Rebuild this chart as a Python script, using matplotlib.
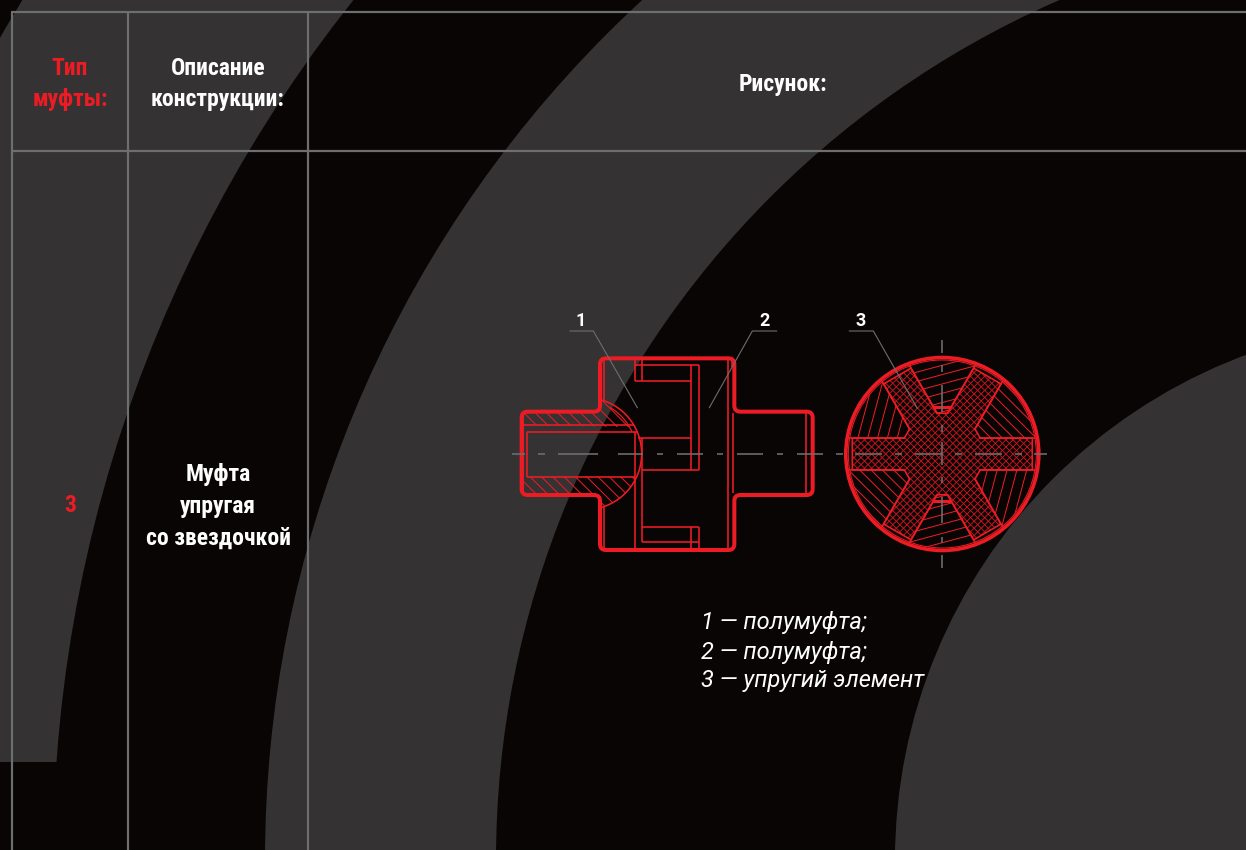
import numpy as np
import matplotlib
matplotlib.use("Agg")
import matplotlib.pyplot as plt
from matplotlib import font_manager as fm
from matplotlib.collections import LineCollection
from matplotlib.patches import Circle, Rectangle, Polygon, PathPatch
from matplotlib.path import Path

W, H = 1246, 850
BLACK, GRAY, RED, DARKRED, LINE, WHITE = "#090504", "#343233", "#ed1c24", "#d8161e", "#6d6e70", "#ffffff"

# background rings
ring_center = (1434, 860)
ring_radii = [1653, 1381, 1169, 938, 539]
band_cut_y = 762

# table grid
grid_x = [12, 128, 308]
grid_y = [12, 151]

# texts
header_texts = [("Тип\nмуфты:", 70, 84, RED), ("Описание\nконструкции:", 218, 84, WHITE), ("Рисунок:", 783, 84, WHITE)]
type_value = "3"
desc_lines = ["Муфта", "упругая", "со звездочкой"]
desc_y = [474, 506, 538]
legend_lines = ["1 — полумуфта;", "2 — полумуфта;", "3 — упругий элемент"]
legend_y = [622, 652, 681]
callouts = [("1", 581, 321), ("2", 764, 321), ("3", 861, 321)]

# longitudinal section, in 3x crop units (origin 500,300)
outline_z = [(65, 335), (300, 335), (300, 175), (703, 175), (703, 335), (938, 335), (938, 585),
             (703, 585), (703, 750), (300, 750), (300, 585), (65, 585)]
thin_z = [
    [(70, 375), (402, 375)], [(80, 395), (410, 395)], [(80, 530), (405, 530)],
    [(80, 395), (80, 530)], [(70, 340), (70, 580)],
    [(405, 180), (405, 242)], [(405, 395), (405, 745)], [(427, 180), (427, 242)], [(427, 413), (427, 725)],
    [(312, 180), (312, 300)], [(312, 622), (312, 745)], [(683, 180), (683, 745)], [(695, 180), (695, 200)],
    [(698, 340), (698, 580)], [(918, 340), (918, 580)],
    [(405, 195), (596, 195)], [(405, 242), (572, 242)], [(572, 195), (572, 510)], [(596, 195), (596, 510)],
    [(415, 413), (572, 413)], [(427, 510), (596, 510)],
    [(427, 680), (596, 680)], [(427, 725), (596, 725)], [(572, 680), (572, 745)], [(596, 680), (596, 745)],
]
ball_z = (257, 461, 168)
ball2_z = (250, 461, 160)
leader_z = [[(210, 93), (280, 93), (412, 323)], [(830, 93), (757, 93), (628, 323)]]
axis_segments_z = [(37, 75), (115, 135), (175, 295), (355, 430), (470, 490), (532, 610), (650, 670), (710, 790), (830, 850), (890, 970)]
axis_y_z = 462

# star section, px
star_c = (942.3, 454.0)
star_R = 96.5
star_inner_R = 94.0
arm_len, arm_hw, notch_s = 90.0, 15.8, 38.0
arm_angles = [0, 60, 120, 180, 240, 300]
# hatch direction (degrees, screen y up) and spacing per sector between arms (start at arm angle)
sector_hatch = [(-45, 8.0), (15, 9.0), (75, 9.5), (-45, 8.0), (15, 9.0), (75, 9.5)]
leader3_z = [(58, 93), (130, 93), (262, 325)]
star_hseg_z = [(18, 38), (75, 155), (195, 215), (255, 335), (375, 395), (435, 515), (555, 575), (612, 652)]
star_vseg_z = [(120, 158), (195, 215), (255, 335), (375, 395), (425, 495), (530, 550), (590, 670), (710, 730), (765, 803)]


def z1(p):
    return (500 + p[0] / 3, 300 + p[1] / 3)


def z2(p):
    return (830 + p[0] / 3, 300 + p[1] / 3)


def font(names):
    have = {f.name for f in fm.fontManager.ttflist}
    for n in names:
        if n in have:
            return n
    return "DejaVu Sans"


NARROW = font(["Liberation Sans Narrow", "Roboto Condensed", "Roboto"])
ITAL = font(["Roboto", "Open Sans"])
px = 0.72  # one pixel in points at dpi 100

fig = plt.figure(figsize=(W / 100, H / 100), dpi=100, facecolor=BLACK)
ax = fig.add_axes([0, 0, 1, 1])
ax.set_xlim(0, W)
ax.set_ylim(H, 0)
ax.axis("off")

cut = Rectangle((0, 0), W, band_cut_y, transform=ax.transData)
for i, r in enumerate(ring_radii):
    c = Circle(ring_center, r, fc=GRAY if i % 2 == 0 else BLACK, ec="none", zorder=1 + i * 0.1)
    ax.add_patch(c)
    if i == 0:
        c.set_clip_path(cut)

for x in grid_x:
    ax.plot([x, x], [grid_y[0], H], color=LINE, lw=2.2 * px, zorder=3, solid_capstyle="butt")
for y in grid_y:
    ax.plot([grid_x[0] - 1, W], [y, y], color=LINE, lw=2.2 * px, zorder=3, solid_capstyle="butt")


def rounded(points, r):
    verts, codes = [], []
    n = len(points)
    for i in range(n):
        p0, p1, p2 = np.array(points[i - 1]), np.array(points[i]), np.array(points[(i + 1) % n])
        a = p1 + (p0 - p1) / np.linalg.norm(p0 - p1) * r
        b = p1 + (p2 - p1) / np.linalg.norm(p2 - p1) * r
        verts += [a, p1, b]
        codes += [Path.MOVETO if i == 0 else Path.LINETO, Path.CURVE3, Path.CURVE3]
    verts.append(verts[0])
    codes.append(Path.CLOSEPOLY)
    return Path(verts, codes)


def hatch(clip, angle, spacing, color, lw, z=5):
    """Parallel lines at a screen angle (y up), clipped to a polygon."""
    clip = np.asarray(clip)
    c = clip.mean(axis=0)
    t = np.radians(angle)
    d = np.array([np.cos(t), -np.sin(t)])
    n = np.array([-d[1], d[0]])
    ext = np.abs((clip - c)).max() * 2 + 10
    k = np.arange(-int(ext / spacing), int(ext / spacing) + 1)
    segs = [[c + n * i * spacing - d * ext, c + n * i * spacing + d * ext] for i in k]
    lc = LineCollection(segs, colors=color, linewidths=lw, zorder=z)
    ax.add_collection(lc)
    lc.set_clip_path(Polygon(clip, transform=ax.transData))


def arc(cx, cy, r, a0, a1, n=60):
    a = np.radians(np.linspace(a0, a1, n))
    return np.column_stack([cx + r * np.cos(a), cy + r * np.sin(a)])


# --- longitudinal section
ax.add_patch(PathPatch(rounded([z1(p) for p in outline_z], 6), fc="none", ec=RED, lw=4 * px, zorder=7))
for s in thin_z:
    p = np.array([z1(q) for q in s])
    ax.plot(p[:, 0], p[:, 1], color=RED, lw=1.6 * px, zorder=6, solid_capstyle="butt")
bx, by = z1(ball_z[:2])
b = arc(bx, by, ball_z[2] / 3, -73, 73)
ax.plot(b[:, 0], b[:, 1], color=RED, lw=1.6 * px, zorder=6)
b2x, b2y = z1(ball2_z[:2])
b2 = arc(b2x, b2y, ball2_z[2] / 3, -60, -25)
ax.plot(b2[:, 0], b2[:, 1], color=RED, lw=1.2 * px, zorder=6)

arc_top = arc(bx, by, ball_z[2] / 3, -73, -28, 30)
arc_bot = arc(bx, by, ball_z[2] / 3, 24, 73, 30)
clip_top = [z1((70, 340)), z1((300, 340))] + list(arc_top) + [z1((70, 375))]
clip_bot = [z1((70, 530))] + list(arc_bot) + [z1((300, 585)), z1((70, 580))]
clip_top = np.array([tuple(p) for p in clip_top])
clip_bot = np.array([tuple(p) for p in clip_bot])
hatch(clip_top, -45, 8, RED, 1.0 * px)
hatch(clip_bot, -45, 8, RED, 1.0 * px)

for s in leader_z:
    p = np.array([z1(q) for q in s])
    ax.plot(p[:, 0], p[:, 1], color=LINE, lw=1.1 * px, zorder=8)
for a_, b_ in axis_segments_z:
    pa, pb = z1((a_, axis_y_z)), z1((b_, axis_y_z))
    ax.plot([pa[0], pb[0]], [pa[1], pb[1]], color=LINE, lw=1.6 * px, zorder=8, solid_capstyle="butt")

# --- star section
cx, cy = star_c


def scr(angle, along, off):
    t = np.radians(angle)
    u = np.array([np.cos(t), -np.sin(t)])
    n = np.array([-u[1], u[0]])
    return np.array([cx, cy]) + u * along + n * off


star = []
for ang in arm_angles:
    star += [scr(ang, notch_s, arm_hw), scr(ang, arm_len, arm_hw), scr(ang, arm_len, -arm_hw), scr(ang, notch_s, -arm_hw)]
star = np.array(star)

for i, ang in enumerate(arm_angles):
    a0 = scr(ang, notch_s, -arm_hw)
    a1 = scr(ang + 60, notch_s, arm_hw)
    along = np.sqrt(star_inner_R ** 2 - arm_hw ** 2)
    e0 = scr(ang, along, -arm_hw)
    e1 = scr(ang + 60, along, arm_hw)
    t0 = np.degrees(np.arctan2(-(e0[1] - cy), e0[0] - cx))
    t1 = np.degrees(np.arctan2(-(e1[1] - cy), e1[0] - cx))
    if t1 < t0:
        t1 += 360
    tt = np.radians(np.linspace(t0, t1, 30))
    rim = np.column_stack([cx + star_inner_R * np.cos(tt), cy - star_inner_R * np.sin(tt)])
    sector = np.vstack([a0, rim, a1])
    hatch(sector, sector_hatch[i][0], sector_hatch[i][1], RED, 1.0 * px)
    for e, a in ((e0, a0), (e1, a1)):
        ax.plot([a[0], e[0]], [a[1], e[1]], color=RED, lw=1.6 * px, zorder=6)

hatch(star, 45, 5.0, DARKRED, 0.85 * px)
hatch(star, -45, 5.0, DARKRED, 0.85 * px)
ax.add_patch(Polygon(star, closed=True, fc="none", ec=RED, lw=1.6 * px, zorder=6))
ax.add_patch(Circle(star_c, star_R, fc="none", ec=RED, lw=3.6 * px, zorder=7))
ax.add_patch(Circle(star_c, star_inner_R, fc="none", ec=RED, lw=1.0 * px, zorder=6))
for sgn in (-1, 1):
    ax.plot([cx - 9, cx + 9], [cy + sgn * 47.3, cy + sgn * 47.3], color=RED, lw=3 * px, zorder=6, solid_capstyle="butt")

for a_, b_ in star_hseg_z:
    pa, pb = z2((a_, 462)), z2((b_, 462))
    ax.plot([pa[0], pb[0]], [pa[1], pb[1]], color=LINE, lw=1.6 * px, zorder=8, solid_capstyle="butt")
for a_, b_ in star_vseg_z:
    pa, pb = z2((337, a_)), z2((337, b_))
    ax.plot([pa[0], pb[0]], [pa[1], pb[1]], color=LINE, lw=1.6 * px, zorder=8, solid_capstyle="butt")
p = np.array([z2(q) for q in leader3_z])
ax.plot(p[:, 0], p[:, 1], color=LINE, lw=1.1 * px, zorder=8)

# --- text
bold = dict(family=NARROW, fontweight="semibold", ha="center", va="center", zorder=9)
for txt, x, y, col in header_texts:
    ax.text(x, y, txt, color=col, fontsize=17, linespacing=1.43, **bold)
ax.text(70, 505, type_value, color=RED, fontsize=17, **bold)
for t, y in zip(desc_lines, desc_y):
    ax.text(218, y, t, color=WHITE, fontsize=17, **bold)
for t, x, y in callouts:
    ax.text(x, y, t, color=WHITE, fontsize=13, family=ITAL, fontweight="bold", ha="center", va="center", zorder=9)
for t, y in zip(legend_lines, legend_y):
    ax.text(701, y, t, color=WHITE, fontsize=17, family=ITAL, style="italic", ha="left", va="center", zorder=9)

fig.savefig("out.png", dpi=100, facecolor=BLACK)
